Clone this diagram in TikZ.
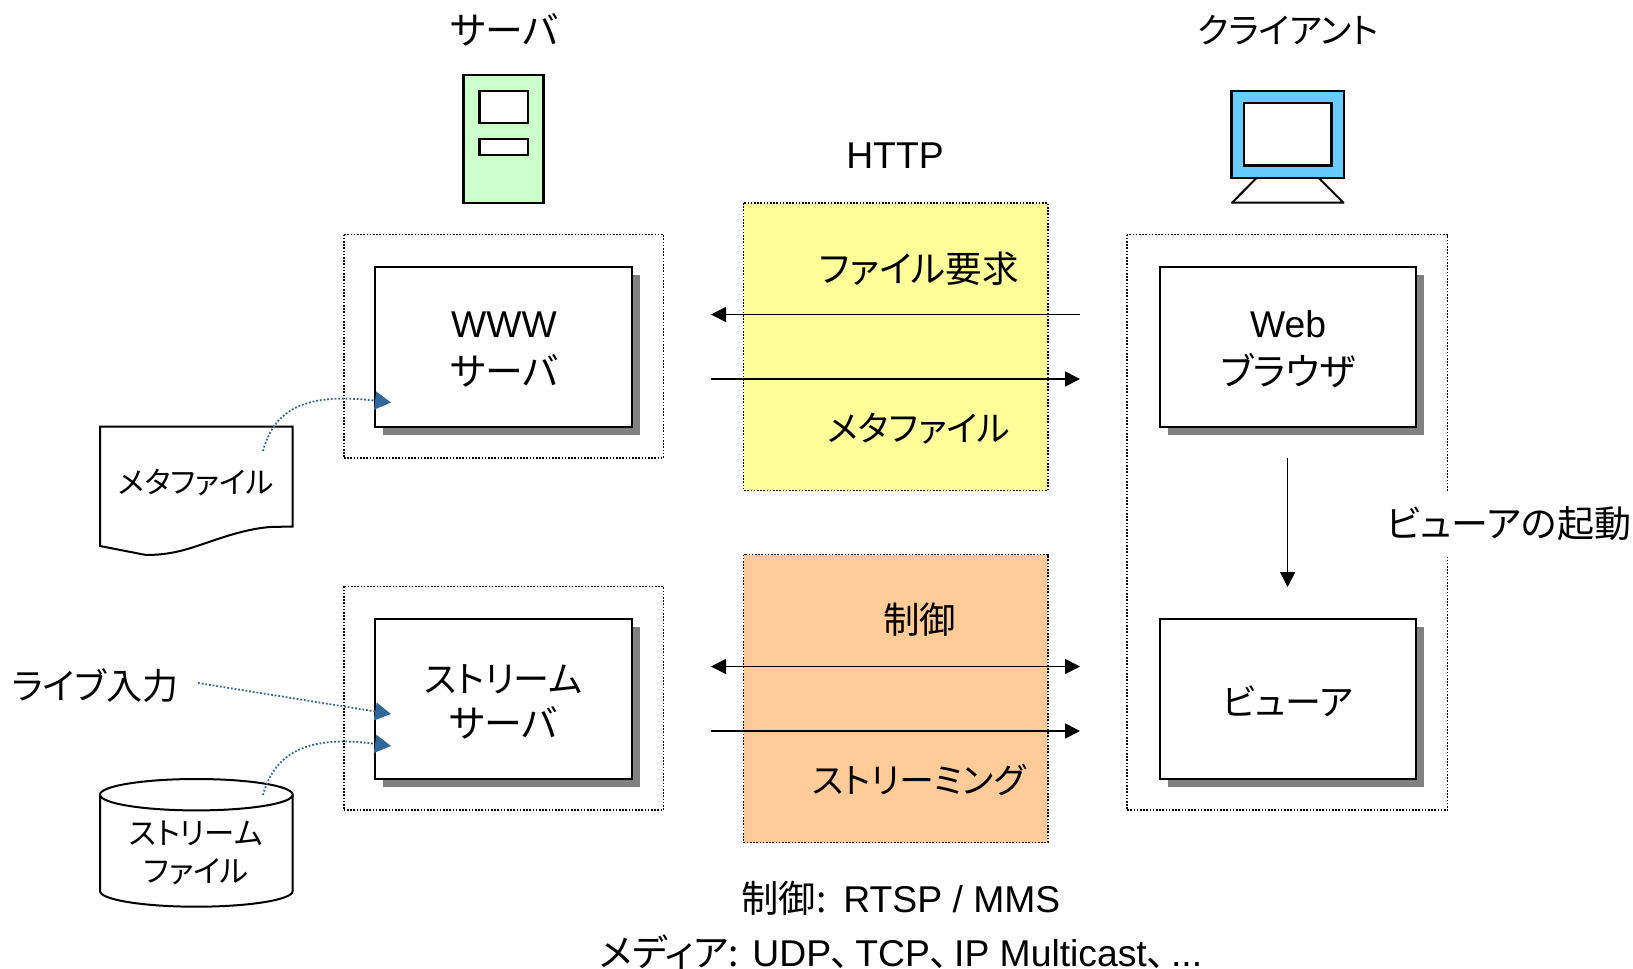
\documentclass[tikz,border=0pt]{standalone}
\usepackage{fontspec}
\usetikzlibrary{arrows.meta}
\setmainfont{Liberation Sans}
\newfontfamily\jp[RawFeature=+palt]{Noto Sans CJK JP}
\newcommand{\J}[1]{{\jp #1}}
\newcommand{\Js}[2]{{\fontsize{#1}{44}\selectfont\jp #2}}
\newcommand{\fbig}{\fontsize{37.3}{44}\selectfont}
\newcommand{\fsmall}{\fontsize{30.5}{38}\selectfont}
\definecolor{shadowgray}{HTML}{808080}
\definecolor{srvgreen}{HTML}{CCFFCC}
\definecolor{cliblue}{HTML}{66CCFF}
\definecolor{httpyellow}{HTML}{FFFF99}
\definecolor{mediaorange}{HTML}{FFCC99}
\definecolor{linkblue}{HTML}{336699}
\tikzset{
  lab/.style={inner sep=0pt,align=center,font=\fbig},
  labs/.style={inner sep=0pt,align=center,font=\fsmall},
  solidbox/.style={draw=black,line width=2.4pt,line join=miter},
  mainbox/.style={draw=black,line width=2pt,fill=white,outer sep=0pt,inner sep=0pt,anchor=north west,minimum height=160.4pt},
  dotbox/.style={draw=black,line width=1.6pt,dash pattern=on 1.6pt off 1.6pt},
  arr/.style={draw=black,line width=1.7pt,-{Triangle[length=15pt,width=15pt]}},
  darr/.style={draw=black,line width=1.7pt,{Triangle[length=15pt,width=15pt]}-{Triangle[length=15pt,width=15pt]}},
  bluearr/.style={draw=linkblue,line width=1.8pt,dash pattern=on 1.8pt off 1.9pt,-{Triangle[length=16pt,width=18pt,fill=linkblue,sep=0pt]}},
}
\begin{document}
\begin{tikzpicture}[x=1pt,y=-1pt]
\useasboundingbox (0,0) rectangle (1633,969);
% group frames
\draw[dotbox] (343.7,234.5) rectangle (663.4,458.2);
\draw[dotbox] (343.7,586.3) rectangle (663.4,810.2);
\draw[dotbox] (1126.8,234.5) rectangle (1447.6,810.2);
% protocol panels
\path[fill=httpyellow,dotbox] (743.6,203) rectangle (1047.7,490.5);
\path[fill=mediaorange,dotbox] (743.6,554.5) rectangle (1047.7,842.5);
% server icon
\draw[solidbox,fill=srvgreen] (463.4,74.7) rectangle (543.6,202.7);
\draw[solidbox,fill=white] (479.3,91) rectangle (527.8,123);
\draw[solidbox,fill=white] (479.3,139) rectangle (527.8,155);
% client icon
\draw[draw=black,line width=2pt,line join=round,fill=white] (1256.5,178) -- (1232,202.7) -- (1343.5,202.7) -- (1318.7,178);
\draw[solidbox,fill=cliblue] (1231.3,90.7) rectangle (1344,178);
\draw[solidbox,fill=white] (1244.2,103) rectangle (1331.6,165.3);
% shadows
\fill[shadowgray] (383,274.6) rectangle (640,434.5);
\fill[shadowgray] (383,626.6) rectangle (640,786.5);
\fill[shadowgray] (1167.6,274.6) rectangle (1424.4,434.5);
\fill[shadowgray] (1167.6,626.6) rectangle (1424.4,786.5);
% boxes
\node[mainbox,minimum width=256.6pt] (www) at (375.4,266.8) {};
\node[mainbox,minimum width=256.6pt] (stream) at (375.4,618.8) {};
\node[mainbox,minimum width=256.4pt] (web) at (1159.6,266.8) {};
\node[mainbox,minimum width=256.4pt] (viewer) at (1159.6,618.8) {};
\node[lab] (wwwtext) at (504,349.5) {WWW\\[4pt]\Js{37.8}{サーバ}};
\node[lab] (streamtext) at (503.5,701.5) {\Js{36}{ストリーム}\\[1pt]\Js{37.8}{サーバ}};
\node[lab] (webtext) at (1288,349.5) {Web\\[4pt]\Js{37.5}{ブラウザ}};
\node[lab] (viewertext) at (1288,701.5) {\Js{36}{ビューア}};
% document
\draw[solidbox,line width=2pt,fill=white] (100,426.5) -- (292.7,426.5) -- (292.7,526.5) -- (270,527)
  .. controls (235,530) and (205,545) .. (180,551) .. controls (168,554) and (156,555) .. (146,555) -- (100,546) -- cycle;
\node[labs] (metadoc) at (196,482.5) {\Js{29.8}{メタファイル}};
% cylinder
\draw[solidbox,line width=2pt,fill=white] (100,794.7) -- (100,891) arc[start angle=180,end angle=360,x radius=96.35pt,y radius=15.7pt] -- (292.7,794.7);
\draw[solidbox,line width=2pt,fill=white] (196.35,794.7) ellipse[x radius=96.35pt,y radius=15.7pt];
\node[labs] (streamfile) at (196,852.5) {\Js{30.4}{ストリーム}\\[0pt]\Js{30.4}{ファイル}};
% labels
\node[lab] (srvtitle) at (504,30) {\Js{37.8}{サーバ}};
\node[lab] (clititle) at (1288,30) {\Js{35}{クライアント}};
\node[lab] (http) at (895,155.5) {HTTP};
\node[lab] (req) at (919,268.5) {\Js{36.5}{ファイル要求}};
\node[lab] (meta) at (919,428.5) {\Js{35}{メタファイル}};
\node[lab] (ctrl) at (919.5,620) {\Js{36.5}{制御}};
\node[lab] (streaming) at (919,780) {\Js{35}{ストリーミング}};
\node[lab,fill=white,minimum height=66pt,minimum width=244pt] (launch) at (1509,523.7) {\Js{37}{ビューアの起動}};
\node[lab] (live) at (95,685.5) {\Js{36}{ライブ入力}};
\node[lab] (proto1) at (901,898.5) {\J{制御:}\hspace{3pt} RTSP / MMS};
\node[lab] (proto2) at (901,952.5) {\J{メディア:} UDP\J{、}\hspace{5.5pt}TCP\J{、}\hspace{5.5pt}IP Multicast\J{、}\hspace{5.5pt}...};
% connector ends
\coordinate (wl1) at (711,314.5);
\coordinate (cr1) at (1080,314.5);
\coordinate (wl2) at (711,379);
\coordinate (cr2) at (1080,379);
\coordinate (sl1) at (711,666.5);
\coordinate (vr1) at (1080,666.5);
\coordinate (sl2) at (711,731);
\coordinate (vr2) at (1080,731);
\coordinate (webbot) at (1287.6,458);
\coordinate (viewtop) at (1287.6,587);
\coordinate (wwwin) at (391,402.5);
\coordinate (livein) at (391,714);
\coordinate (filein) at (391,746);
\coordinate (metastart) at (263,451);
\coordinate (livestart) at (198,683);
\coordinate (filestart) at (263,795);
% connectors
\draw[arr] (cr1) -- (wl1);
\draw[arr] (wl2) -- (cr2);
\draw[darr] (sl1) -- (vr1);
\draw[arr] (sl2) -- (vr2);
\draw[arr] (webbot) -- (viewtop);
\draw[bluearr] (metastart) .. controls (275,406) and (310,393) .. (wwwin);
\draw[bluearr] (livestart) -- (livein);
\draw[bluearr] (filestart) .. controls (275,751) and (310,735) .. (filein);
\end{tikzpicture}
\end{document}
